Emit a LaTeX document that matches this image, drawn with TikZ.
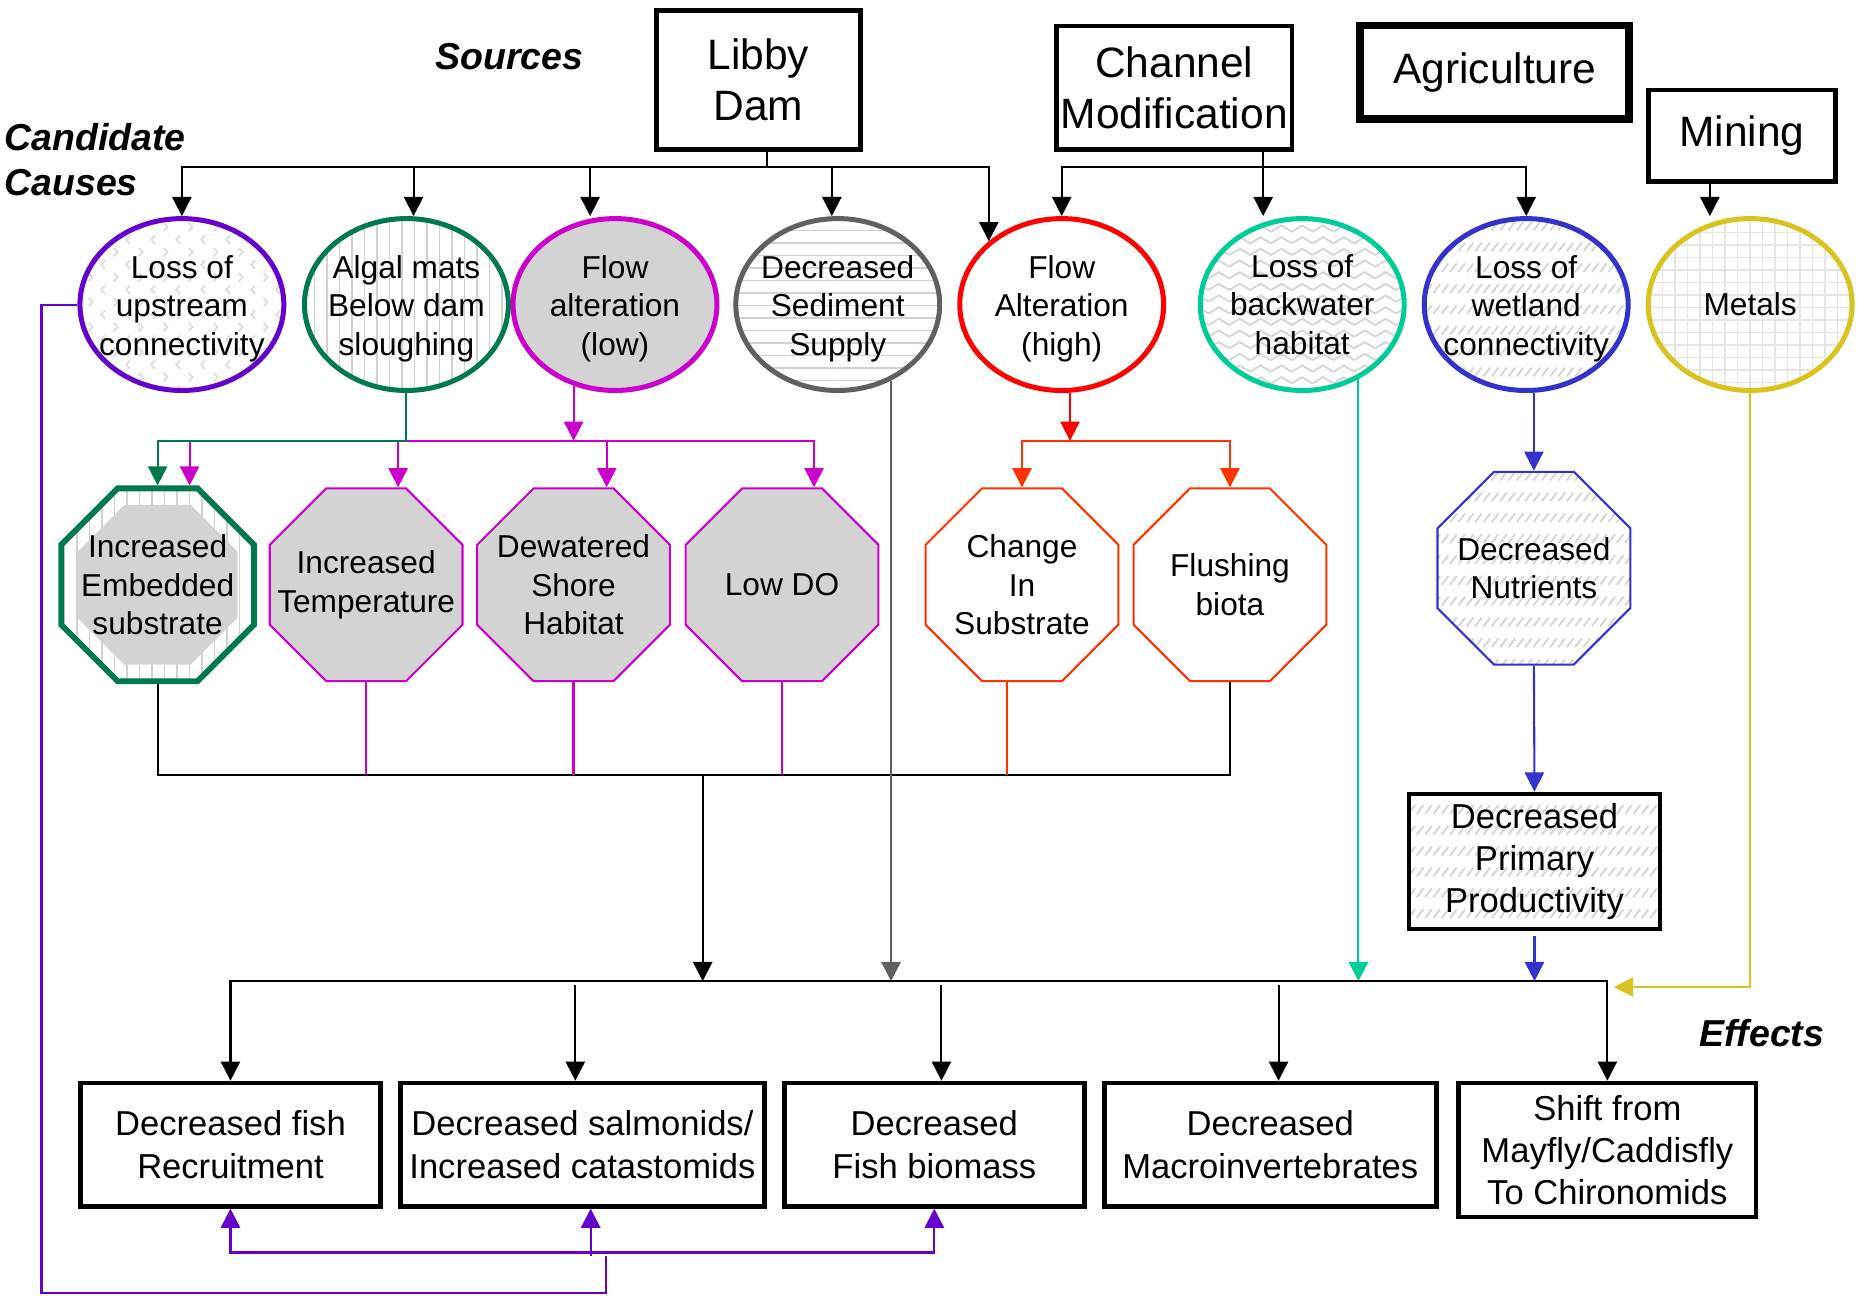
\documentclass[tikz,border=0pt]{standalone}
\usepackage{fontspec}
\setmainfont{Liberation Sans}
\usepackage{tikz}
\usetikzlibrary{shapes,positioning,arrows.meta,calc,patterns}

\pgfdeclarepatternformonly{zigzag}{\pgfpoint{-1pt}{-1pt}}{\pgfpoint{6pt}{4pt}}{\pgfpoint{5pt}{2.8pt}}{%
  \pgfsetlinewidth{0.45pt}
  \pgfpathmoveto{\pgfpoint{0pt}{0.4pt}}
  \pgfpathlineto{\pgfpoint{2.5pt}{1.9pt}}
  \pgfpathlineto{\pgfpoint{5pt}{0.4pt}}
  \pgfusepath{stroke}}
\pgfdeclarepatternformonly{chevrons}{\pgfpoint{-1pt}{-1pt}}{\pgfpoint{7pt}{7pt}}{\pgfpoint{6pt}{6pt}}{%
  \pgfsetlinewidth{0.4pt}
  \pgfpathmoveto{\pgfpoint{1.2pt}{0.3pt}}
  \pgfpathlineto{\pgfpoint{0.3pt}{1.3pt}}
  \pgfpathlineto{\pgfpoint{1.2pt}{2.3pt}}
  \pgfpathmoveto{\pgfpoint{3.3pt}{3.3pt}}
  \pgfpathlineto{\pgfpoint{4.2pt}{4.3pt}}
  \pgfpathlineto{\pgfpoint{3.3pt}{5.3pt}}
  \pgfusepath{stroke}}
\pgfdeclarepatternformonly{slashrows}{\pgfpoint{-1pt}{-1pt}}{\pgfpoint{3pt}{6pt}}{\pgfpoint{2pt}{5pt}}{%
  \pgfsetlinewidth{0.45pt}
  \pgfpathmoveto{\pgfpoint{0pt}{0.5pt}}
  \pgfpathlineto{\pgfpoint{1.6pt}{2.6pt}}
  \pgfusepath{stroke}}

\definecolor{causepurple}{RGB}{102,0,204}
\definecolor{causegreen}{RGB}{0,122,77}
\definecolor{causemagenta}{RGB}{204,0,204}
\definecolor{causegray}{RGB}{96,96,96}
\definecolor{causered}{RGB}{255,0,0}
\definecolor{causeorange}{RGB}{255,51,0}
\definecolor{causeteal}{RGB}{0,204,153}
\definecolor{causeblue}{RGB}{51,51,204}
\definecolor{causeyellow}{RGB}{217,196,31}
\definecolor{lightshade}{RGB}{211,211,211}

\newcommand{\srcfont}{\fontsize{10.2}{12.2}\selectfont}
\newcommand{\causefont}{\fontsize{7.6}{9.2}\selectfont}
\newcommand{\effectfont}{\fontsize{8.3}{10.1}\selectfont}
\newcommand{\headfont}{\fontsize{9}{10.8}\selectfont\bfseries\itshape}

\begin{document}
\begin{tikzpicture}[
	x=0.01cm, y=-0.01cm,
	>={Triangle[length=4.6pt,width=4.6pt]},
	every label/.style={align=center, inner sep=0pt, font=\causefont},
	causetext/.style={yshift=-1pt},
	srcnode/.style={rectangle, draw=black, line width=1.1pt, inner sep=1pt, align=center, font=\srcfont},
	causenode/.style={ellipse, line width=1.2pt, minimum width=1.72cm, minimum height=1.45cm, inner sep=0pt},
	octnode/.style={regular polygon, regular polygon sides=8, line width=0.5pt, minimum size=1.76cm, inner sep=0pt},
	effnode/.style={rectangle, draw=black, line width=1.1pt, inner sep=1pt, align=center, font=\effectfont},
	headnode/.style={inner sep=0pt, align=left, font=\headfont},
	link/.style={line width=0.5pt},
	]
	\useasboundingbox (0,0) rectangle (1568,1093);
	
	%Nodes
	\node[headnode] (sources) at (430,48) {Sources};
	\node[headnode, anchor=west] (candidates) at (3,135) {Candidate\\Causes};
	\node[headnode] (effects) at (1487,872) {Effects};
	
	\node[srcnode, minimum width=1.72cm, minimum height=1.17cm] (libby) at (640,67.5) {Libby\\Dam};
	\node[srcnode, minimum width=1.98cm, minimum height=1.04cm] (channel) at (991,74) {Channel\\Modification};
	\node[srcnode, line width=1.9pt, minimum width=2.27cm, minimum height=0.79cm] (agri) at (1261.5,61) {Agriculture};
	\node[srcnode, minimum width=1.58cm, minimum height=0.77cm] (mining) at (1470,114.5) {Mining};
	
	\node[causenode, draw=causepurple, pattern=chevrons, pattern color=black!14, label={[causetext]center:{Loss of\\upstream\\connectivity}}] (lossup) at (153.5,257) {};
	\node[causenode, draw=causegreen, pattern=vertical lines, pattern color=black!18, label={[causetext]center:{Algal mats\\Below dam\\sloughing}}] (algal) at (343,257) {};
	\node[causenode, draw=causemagenta, fill=lightshade, label={[causetext]center:{Flow\\alteration\\(low)}}] (flowlow) at (519,257) {};
	\node[causenode, draw=causegray, pattern=horizontal lines, pattern color=black!18, label={[causetext]center:{Decreased\\Sediment\\Supply}}] (sediment) at (707,257) {};
	\node[causenode, draw=causered, label={[causetext]center:{Flow\\Alteration\\(high)}}] (flowhigh) at (896,257) {};
	\node[causenode, draw=causeteal, pattern=zigzag, pattern color=black!16, label={center:{Loss of\\backwater\\habitat}}] (backwater) at (1099,257) {};
	\node[causenode, draw=causeblue, pattern=slashrows, pattern color=black!16, label={[causetext]center:{Loss of\\wetland\\connectivity}}] (wetland) at (1288,257) {};
	\node[causenode, draw=causeyellow, pattern=grid, pattern color=black!10, label={center:{Metals}}] (metals) at (1477,257) {};
	
	\node[octnode, draw=causegreen, line width=1.4pt, pattern=vertical lines, pattern color=black!18] (embedded) at (133,493.5) {};
	\node[octnode, fill=lightshade, minimum size=1.46cm, label={center:{Increased\\Embedded\\substrate}}] (embeddedcore) at (embedded) {};
	\node[octnode, draw=causemagenta, fill=lightshade, label={center:{Increased\\Temperature}}] (temp) at (309,493.5) {};
	\node[octnode, draw=causemagenta, fill=lightshade, label={center:{Dewatered\\Shore\\Habitat}}] (dewater) at (484,493.5) {};
	\node[octnode, draw=causemagenta, fill=lightshade, label={center:{Low DO}}] (lowdo) at (660,493.5) {};
	\node[octnode, draw=causeorange, label={center:{Change\\In\\Substrate}}] (change) at (862.5,493.5) {};
	\node[octnode, draw=causeorange, label={center:{Flushing\\biota}}] (flushing) at (1038,493.5) {};
	\node[octnode, draw=causeblue, pattern=slashrows, pattern color=black!16, label={center:{Decreased\\Nutrients}}] (nutrients) at (1294.5,479.5) {};
	
	\node[effnode, pattern=slashrows, pattern color=black!16, minimum width=2.12cm, minimum height=1.14cm] (productivity) at (1295,727) {Decreased\\Primary\\Productivity};
	
	\node[effnode, minimum width=2.53cm, minimum height=1.04cm] (recruit) at (194.5,966) {Decreased fish\\Recruitment};
	\node[effnode, minimum width=3.07cm, minimum height=1.04cm] (salmon) at (491.5,966) {Decreased salmonids/\\Increased catastomids};
	\node[effnode, minimum width=2.53cm, minimum height=1.04cm] (biomass) at (788.5,966) {Decreased\\Fish biomass};
	\node[effnode, minimum width=2.80cm, minimum height=1.04cm] (macro) at (1072,966) {Decreased\\Macroinvertebrates};
	\node[effnode, minimum width=2.51cm, minimum height=1.13cm] (shift) at (1356.5,970.5) {Shift from\\Mayfly/Caddisfly\\To Chironomids};
	
	%Lines
	\coordinate (srcrow) at (0,141);
	\coordinate (midrow) at (0,372);
	\coordinate (lowrow) at (0,654);
	\coordinate (effrow) at (0,828);
	\coordinate (purrow) at (0,1057);
	\coordinate (libbyout) at ($(libby.south)+(7,0)$);
	\coordinate (chanout) at ($(channel.south)+(75,0)$);
	\coordinate (mineout) at ($(mining.south)+(-27,0)$);
	\coordinate (lowout) at (flowlow.243);
	\coordinate (highout) at ($(flowhigh.south)+(7,0)$);
	\coordinate (changeout) at ($(change.south)+(-13,0)$);
	\coordinate (sedout) at (sediment.305);
	\coordinate (backout) at (backwater.307);
	\coordinate (merge) at (593,654);
	\coordinate (metalend) at (1362,833);
	\coordinate (purcorner) at (35,1091);
	
	\draw[link,->] (libbyout) |- (lossup.north |- srcrow) -- (lossup.north);
	\draw[link,->] (libbyout) |- ($(algal.north |- srcrow)+(6,0)$) -- ($(algal.north)+(6,0)$);
	\draw[link,->] (libbyout) |- ($(flowlow.north |- srcrow)+(-21,0)$) -- ($(flowlow.north)+(-21,0)$);
	\draw[link,->] (libbyout) |- ($(sediment.north |- srcrow)+(-5,0)$) -- ($(sediment.north)+(-5,0)$);
	\draw[link,->] (libbyout) |- (flowhigh.139 |- srcrow) -- (flowhigh.139);
	\draw[link,->] (chanout) |- (flowhigh.north |- srcrow) -- (flowhigh.north);
	\draw[link,->] (chanout) -- (chanout |- backwater.north);
	\draw[link,->] (chanout) |- (wetland.north |- srcrow) -- (wetland.north);
	\draw[link,->] (mineout) -- (mineout |- metals.north);
	
	\draw[link,->,draw=causemagenta] (lowout |- midrow) -| ($(embedded.north)+(27,0)$);
	\draw[link,->,draw=causemagenta] (lowout |- midrow) -| ($(temp.north)+(27,0)$);
	\draw[link,->,draw=causemagenta] (lowout |- midrow) -| ($(dewater.north)+(28,0)$);
	\draw[link,->,draw=causemagenta] (lowout |- midrow) -| ($(lowdo.north)+(27,0)$);
	\draw[link,->,draw=causemagenta] (lowout) -- (lowout |- midrow);
	\draw[link,->,draw=causegreen] (algal.south) |- (embedded.north |- midrow) -- (embedded.north);
	\draw[link,->,draw=causeorange] (highout |- midrow) -| (change.north);
	\draw[link,->,draw=causeorange] (highout |- midrow) -| (flushing.north);
	\draw[link,->,draw=causered] (highout) -- (highout |- midrow);
	\draw[link,->,draw=causeblue] (nutrients.north |- wetland.south) -- (nutrients.north);
	\draw[link,->,draw=causeblue] (nutrients.south) -- (productivity.north);
	\draw[link,->,draw=causeblue] ($(productivity.south)+(0,4)$) -- (productivity.south |- effrow);
	
	\draw[link] (embedded.south) |- (flushing.south |- lowrow) -- (flushing.south);
	\draw[link,draw=causemagenta] (temp.south) -- (temp.south |- lowrow);
	\draw[link,draw=causemagenta] (dewater.south) -- (dewater.south |- lowrow);
	\draw[link,draw=causemagenta] (lowdo.south) -- (lowdo.south |- lowrow);
	\draw[link,draw=causeorange] (changeout) -- (changeout |- lowrow);
	\draw[link,->] (merge) -- (merge |- effrow);
	\draw[link,->,draw=causegray] (sedout) -- (sedout |- effrow);
	\draw[link,->,draw=causeteal] (backout) -- (backout |- effrow);
	\draw[link,->,draw=causeyellow] (metals.south) |- (metalend);
	
	\draw[link,<->] (recruit.north) |- (shift.north |- effrow) -- (shift.north);
	\draw[link,->] ($(salmon.north |- effrow)+(-6,3)$) -- ($(salmon.north)+(-6,0)$);
	\draw[link,->] ($(biomass.north |- effrow)+(6,3)$) -- ($(biomass.north)+(6,0)$);
	\draw[link,->] ($(macro.north |- effrow)+(7,3)$) -- ($(macro.north)+(7,0)$);
	
	\draw[link,draw=causepurple] (lossup.west) -| (purcorner) -| ($(salmon.south |- purrow)+(20,3)$);
	\draw[link,<->,draw=causepurple] (recruit.south) |- (biomass.south |- purrow) -- (biomass.south);
	\draw[link,->,draw=causepurple] ($(salmon.south |- purrow)+(7,3)$) -- ($(salmon.south)+(7,0)$);
	
\end{tikzpicture}
\end{document}
